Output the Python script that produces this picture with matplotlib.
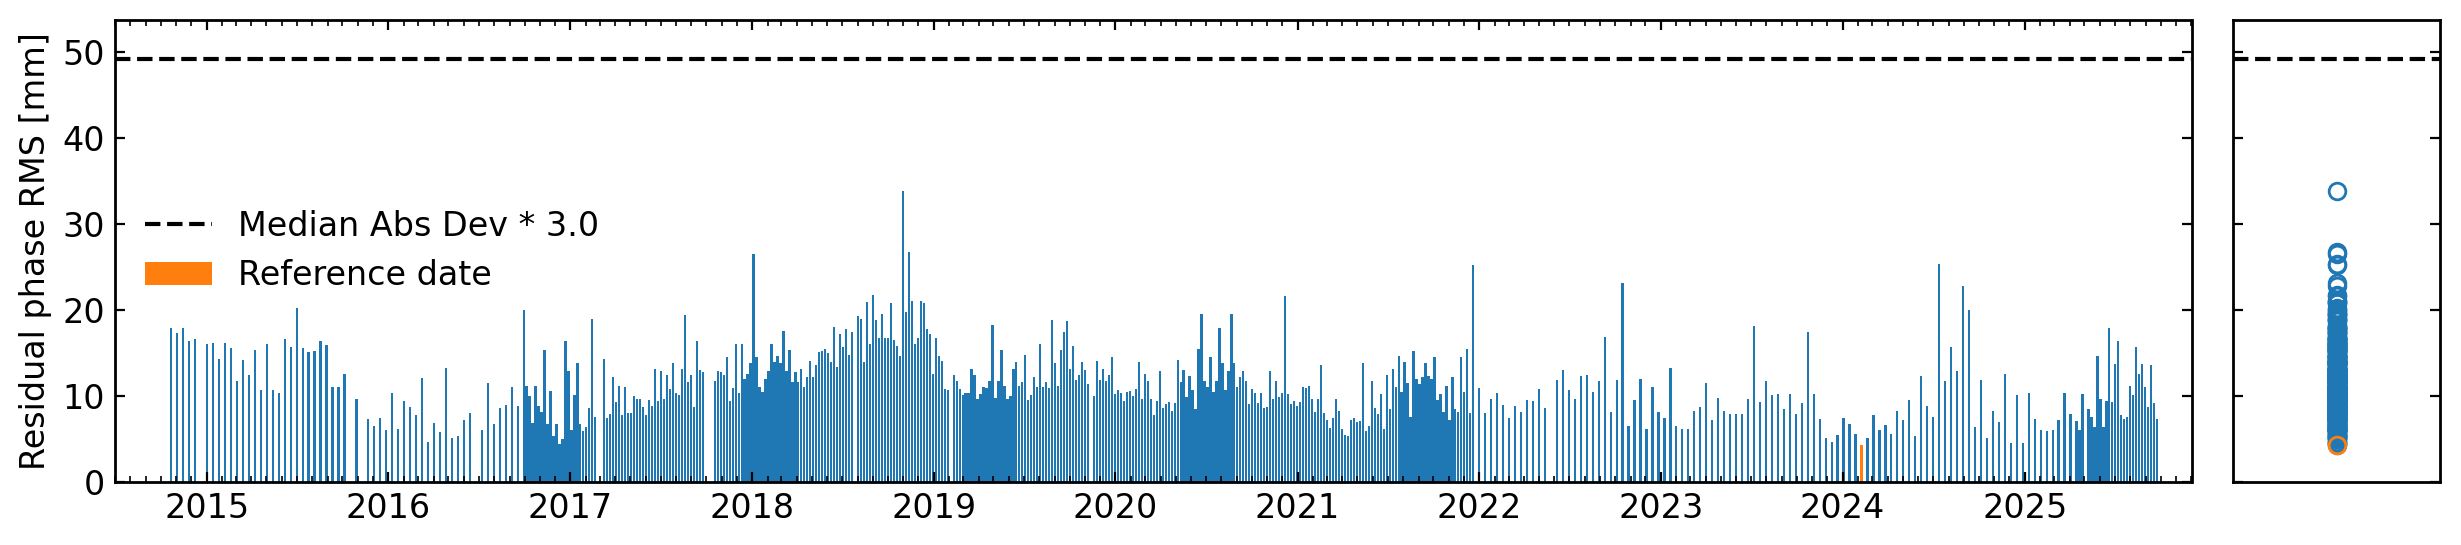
"""Residual phase RMS bar chart with side scatter (reference date + MAD threshold)."""
import datetime as dt
import numpy as np
import matplotlib
matplotlib.use("Agg")
import matplotlib.pyplot as plt
import matplotlib.dates as mdates

# ---- data ----
START = dt.date(2014, 10, 22)          # first acquisition
day_offset = [
    0, 12, 24, 36, 48, 72, 84, 96, 108, 120, 132, 144, 156, 168, 180, 192, 204, 216, 228, 240,
    252, 264, 276, 288, 300, 312, 324, 336, 348, 372, 396, 408, 420, 432, 444, 456, 468, 480, 492, 504,
    516, 528, 540, 552, 564, 576, 588, 600, 624, 636, 648, 660, 672, 684, 696, 708,
    714, 720, 726, 732, 738, 744, 750, 756, 762, 768, 774, 780, 786, 792, 798, 804, 810, 816, 822, 828,
    834, 840, 846, 852, 870, 876, 882, 888, 894, 900, 906, 912, 918, 924, 930, 936,
    942, 948, 954, 960, 966, 972, 978, 984, 990, 996, 1002, 1008, 1014, 1020, 1026, 1032, 1038, 1044,
    1050, 1056, 1062, 1068,
    1092, 1098, 1104, 1110, 1116, 1122, 1128, 1134, 1140, 1146, 1152, 1158, 1164, 1170, 1176, 1182,
    1188, 1194, 1200, 1206, 1212, 1218, 1224, 1230, 1236, 1242, 1248, 1254, 1260, 1266, 1272, 1278,
    1284, 1290, 1296, 1302, 1308, 1314, 1320, 1326, 1332, 1338, 1344, 1350, 1356, 1362, 1368,
    1380, 1386, 1392, 1398, 1404, 1410, 1416, 1422, 1428, 1434, 1440, 1446, 1452, 1458, 1464, 1470,
    1476, 1482, 1488, 1494, 1500, 1506, 1512, 1518, 1524, 1530, 1536, 1542, 1548, 1554, 1560,
    1572, 1578, 1584, 1590, 1596, 1602, 1608, 1614, 1620, 1626, 1632, 1638, 1644, 1650, 1656, 1662,
    1668, 1674, 1680, 1686, 1692, 1698, 1704, 1710, 1716, 1722, 1728, 1734, 1740, 1746, 1752, 1758,
    1764, 1770, 1776, 1782, 1788, 1794, 1800, 1806, 1812, 1818, 1824, 1830, 1836, 1842,
    1854, 1860, 1866, 1872, 1878, 1884, 1890, 1896, 1902, 1908, 1914, 1920, 1926, 1932, 1938, 1944,
    1950, 1956, 1962, 1968, 1974, 1980, 1986, 1992, 1998,
    2004, 2010, 2016, 2022, 2028, 2034, 2040, 2046, 2052, 2058,
    2064, 2070, 2076, 2082, 2088, 2094, 2100, 2106, 2112, 2118,
    2124, 2130, 2136, 2142, 2148, 2154, 2160, 2166, 2172, 2178,
    2184, 2190, 2196, 2202, 2208, 2214, 2220, 2226, 2232, 2238,
    2244, 2250, 2256, 2262, 2268, 2274, 2280, 2286, 2292, 2298,
    2304, 2310, 2316, 2322, 2328, 2334, 2340, 2346, 2352, 2358,
    2364, 2370, 2376, 2382, 2388, 2394, 2400, 2406, 2412, 2418,
    2424, 2430, 2436, 2442, 2448, 2454, 2460, 2466, 2472, 2478,
    2484, 2490, 2496, 2502, 2508, 2514, 2520, 2526, 2532, 2538,
    2544, 2550, 2556, 2562, 2568, 2574, 2580, 2586, 2592, 2598,
    2604, 2610, 2616,
    2628, 2640, 2652, 2664, 2676, 2688, 2700, 2712, 2724, 2736, 2748, 2760,
    2784, 2796, 2808, 2820, 2832, 2844, 2856, 2868, 2880, 2892, 2904, 2916, 2928, 2940, 2952, 2964,
    2976, 2988, 3000, 3012, 3024, 3036,
    3048, 3060, 3072, 3084, 3096, 3108, 3120, 3132, 3144, 3156,
    3168, 3180, 3192, 3204, 3216, 3228, 3240, 3252, 3264, 3276,
    3288, 3300, 3312, 3324, 3336, 3348, 3360, 3372, 3384, 3396,
    3408, 3420, 3432, 3444, 3456, 3468, 3480, 3492, 3504, 3516,
    3528, 3540, 3552, 3564, 3576, 3588, 3600, 3612, 3624, 3636,
    3648, 3660, 3672, 3684, 3696, 3708, 3720, 3732, 3744, 3756,
    3768, 3780, 3792, 3804, 3816, 3828,
    3834, 3840, 3852, 3858, 3864, 3870, 3876, 3882, 3888, 3894, 3900, 3906, 3912, 3918, 3924, 3930,
    3936, 3942, 3948, 3954, 3960, 3966, 3972, 3978, 3984, 3990,
]
rms_mm = [
    17.9, 17.3, 17.9, 16.4, 16.6, 16.1, 16.2, 14.3, 16.2, 15.6, 11.8, 14.2, 12.5, 15.3, 10.7, 16.0,
    10.7, 10.4, 16.6, 15.7, 20.2, 15.6, 15.1, 15.2, 16.4, 15.9, 11.1, 11.0, 12.6, 9.6, 7.3, 6.5,
    7.4, 6.1, 10.4, 6.2, 9.4, 8.7, 7.8, 12.1, 4.7, 6.9, 5.8, 13.3, 5.1, 5.3, 7.2, 8.0,
    6.0, 11.5, 6.7, 8.6, 9.0, 11.1, 8.8, 20.0,
    11.2, 10.0, 6.9, 11.2, 8.9, 8.1, 15.3, 6.7, 10.6, 5.3, 6.7, 4.4, 5.0, 16.4, 12.9, 6.1,
    10.1, 13.9, 6.7, 5.9, 6.4, 8.6, 19.0, 7.6, 14.3, 7.5, 7.9, 12.2, 9.3, 11.2, 7.8, 11.0,
    8.0, 8.0, 10.0, 9.7,
    9.6, 8.7, 7.75, 9.5, 8.8, 13.2, 9.4, 12.9, 9.7, 12.4, 10.8, 13.8, 10.3, 10.1, 13.2, 19.4,
    11.6, 12.4, 8.7, 16.4, 13.0, 12.8,
    11.7, 12.9, 12.8, 12.4, 14.5, 9.4, 10.9, 16.0, 10.3, 16.1, 12.0, 12.6, 13.9, 26.5, 14.6, 11.0,
    10.5, 12.0, 12.9, 16.1, 14.0, 14.7, 13.9, 17.6, 12.9, 15.3, 11.6, 12.8, 11.6, 13.2, 11.0, 12.2,
    14.1, 12.2, 13.6, 15.1, 15.2, 15.5, 15.0, 14.0, 18.0, 13.4, 17.2, 15.7, 17.8, 14.8, 17.4,
    19.3, 19.0, 14.0, 20.9, 16.0, 21.7, 18.8, 16.8, 19.5, 16.8, 16.8, 20.8, 16.5, 15.8, 14.7, 33.8,
    19.8, 26.8, 21.0, 16.0, 16.7, 21.1, 20.8, 17.8, 17.2, 12.6, 16.8, 14.7, 14.1, 10.8, 10.7,
    12.4, 11.7, 10.8, 10.1, 10.3, 10.3, 13.2, 12.4, 9.6, 10.2, 11.0, 10.9, 11.7, 18.3, 9.8, 11.8,
    15.3, 11.2, 9.6, 9.95, 13.2, 14.0, 11.2, 11.6, 14.8, 9.5, 10.1, 12.2, 11.1, 16.1, 11.1, 11.6,
    10.9, 18.8, 13.9, 11.2, 15.3, 17.4, 18.7, 13.1, 15.8, 11.9, 12.5, 14.0, 13.0, 11.4,
    10.0, 14.1, 11.9, 13.2, 11.7, 12.4, 14.6, 10.2, 10.7, 10.3, 9.4, 10.5, 10.6, 10.0, 10.8, 14.0,
    9.7, 12.6, 11.7, 9.7, 7.75, 9.4, 12.9, 8.6, 9.1,
    9.3, 8.3, 9.15, 14.15, 11.6, 13.0, 9.85, 12.3, 10.65, 8.45,
    15.5, 19.6, 11.7, 11.1, 14.5, 10.5, 11.8, 17.9, 13.9, 10.65,
    12.9, 19.5, 13.9, 11.0, 12.2, 12.9, 11.8, 9.1, 10.8, 10.4,
    9.15, 10.4, 8.6, 8.7, 12.9, 9.7, 11.8, 9.85, 10.4, 21.6,
    10.2, 9.1, 9.4, 8.8, 9.3, 11.1, 10.9, 11.2, 9.6, 8.2,
    9.6, 13.6, 8.0, 7.2, 6.3, 7.5, 9.7, 8.3, 6.2, 5.5,
    5.4, 7.2, 7.4, 7.0, 7.1, 13.8, 5.9, 6.5, 11.7, 8.6,
    7.9, 10.2, 6.2, 12.5, 8.45, 13.2, 11.1, 14.7, 10.5, 14.0,
    11.5, 7.6, 15.2, 12.0, 11.4, 12.2, 13.8, 12.3, 12.0, 14.5,
    9.5, 10.2, 8.1, 11.2, 7.2, 12.2, 8.45, 8.1, 14.5, 10.5,
    15.5, 8.0, 25.2,
    10.9, 8.0, 9.6, 10.3, 9.0, 7.4, 8.8, 8.1, 9.5, 9.4, 10.8, 8.6,
    11.9, 13.0, 10.65, 9.6, 12.3, 12.4, 10.5, 11.8, 16.9, 8.1, 11.9, 23.2, 6.5, 9.5, 12.0, 6.2,
    11.1, 8.1, 7.4, 13.3, 6.5, 6.2,
    6.2, 8.3, 8.7, 11.5, 7.2, 9.8, 8.3, 7.9, 7.9, 7.9,
    9.6, 18.1, 9.3, 11.8, 10.1, 10.2, 8.45, 10.2, 7.9, 9.2,
    17.5, 10.2, 7.3, 5.1, 4.7, 5.5, 7.4, 6.7, 5.6, 4.25,
    5.1, 7.8, 6.0, 6.6, 5.6, 8.3, 7.2, 9.5, 5.3, 12.3,
    8.8, 7.6, 25.4, 11.8, 15.7, 12.9, 22.8, 20.0, 6.4, 11.9,
    5.1, 8.3, 7.0, 12.6, 4.5, 10.1, 4.5, 10.3, 7.3, 6.0,
    5.9, 6.0, 7.2, 10.4, 7.9, 7.1,
    6.0, 10.2, 8.45, 7.6, 6.4, 14.7, 9.7, 6.4, 9.4, 17.9, 9.3, 13.7, 16.4, 7.8, 7.3, 7.6,
    11.2, 10.1, 15.7, 12.6, 13.7, 11.1, 8.7, 13.6, 9.2, 7.3,
]
THRESH = 49.25                          # median abs dev threshold [mm]
CUTOFF = 3.0
X_START, X_END = dt.date(2014, 7, 1), dt.date(2025, 12, 2)
BAR_DAYS = 4.5                          # 3/4 of the 6-day repeat

assert len(day_offset) == len(rms_mm), (len(day_offset), len(rms_mm))

dates = np.array([START + dt.timedelta(days=d) for d in day_offset])
rms = np.array(rms_mm)
ref = int(np.argmin(rms))

FS = 12
W, H, DPI = 2461, 545, 200
fig = plt.figure(figsize=(W / DPI, H / DPI), dpi=DPI)
ax = fig.add_axes([115 / W, 63 / H, (2191.5 - 115) / W, 462 / H])
ax2 = fig.add_axes([2233 / W, 63 / H, (2440 - 2233) / W, 462 / H])

# main: bars
ax.bar(dates, rms, BAR_DAYS, color="C0")
ax.bar(dates[ref], rms[ref], BAR_DAYS, color="C1", label="Reference date")
ax.plot([X_START, X_END], [THRESH, THRESH], "--k", label=f"Median Abs Dev * {CUTOFF}")

ax.set_xlim(X_START, X_END)
ax.xaxis.set_major_locator(mdates.YearLocator())
ax.xaxis.set_major_formatter(mdates.DateFormatter("%Y"))
ax.xaxis.set_minor_locator(mdates.MonthLocator())
vals = np.append(rms, THRESH)
ax.set_ylim(0, vals.max() + 0.1 * (vals.max() - vals.min()))
ax.set_ylabel("Residual phase RMS [mm]", fontsize=FS)
ax.tick_params(which="both", direction="in", labelsize=FS,
               bottom=True, top=True, left=True, right=True)
ax.legend(loc="center left", frameon=False, fontsize=FS)

# side: circles
ax2.plot(np.full(rms.shape, 0.5), rms, "o", mfc="none", color="C0")
ax2.plot(0.5, rms[ref], "o", mfc="none", color="C1")
ax2.plot([0, 1], [THRESH, THRESH], "--k")
ax2.set_ylim(ax.get_ylim())
ax2.set_xlim(0, 1)
ax2.set_xticks([])
ax2.tick_params(which="both", direction="in", labelsize=FS,
                left=True, right=True, labelleft=False)

for a in (ax, ax2):
    for s in a.spines.values():
        s.set_linewidth(1.0)

fig.savefig("out.png", dpi=DPI, facecolor="white")
